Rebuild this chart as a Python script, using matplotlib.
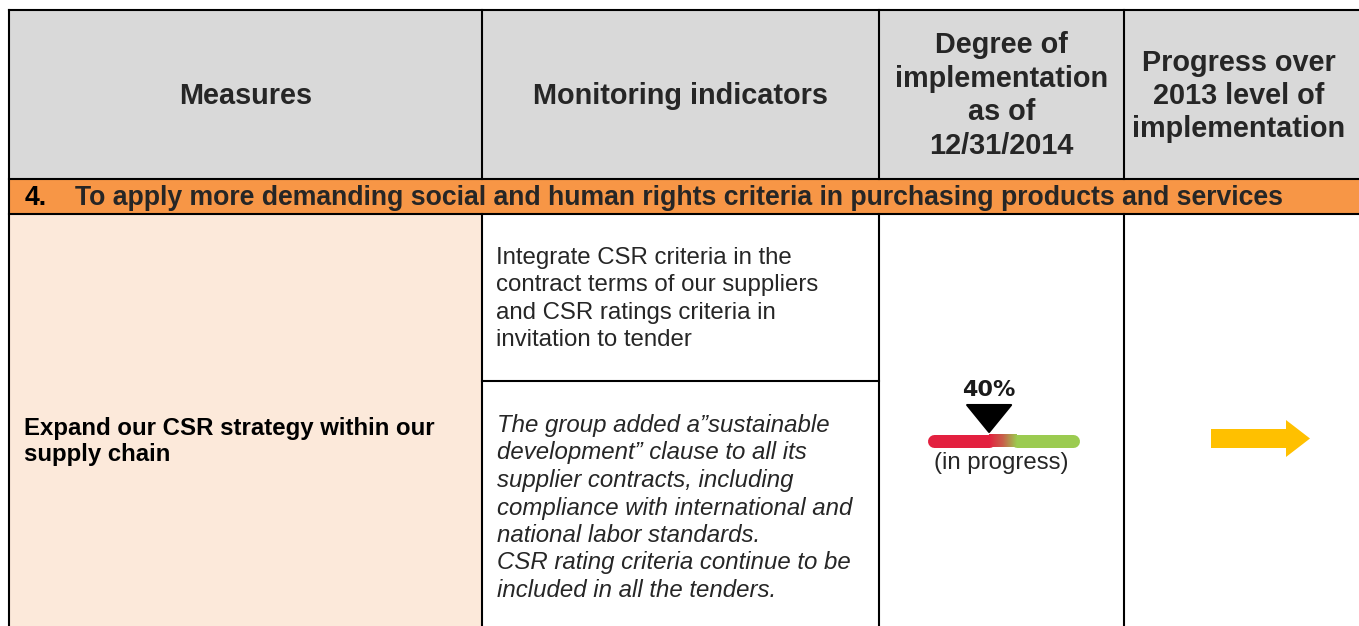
import numpy as np
import matplotlib
matplotlib.use("Agg")
import matplotlib.pyplot as plt
from matplotlib.patches import Rectangle, Polygon, FancyArrow
from matplotlib.colors import LinearSegmentedColormap

# ---------------- data ----------------
column_headers = ["Measures",
                  "Monitoring indicators",
                  "Degree of\nimplementation\nas of\n12/31/2014",
                  "Progress over\n2013 level of\nimplementation"]
section_number = "4."
section_title = ("To apply more demanding social and human rights criteria "
                 "in purchasing products and services")
measure_lines = ["Expand our CSR strategy within our", "supply chain"]
indicator_lines = ["Integrate CSR criteria in the",
                   "contract terms of our suppliers",
                   "and CSR ratings criteria in",
                   "invitation to tender"]
comment_lines = ["The group added a\u201dsustainable",
                 "development\u201d clause to all its",
                 "supplier contracts, including",
                 "compliance with international and",
                 "national labor standards.",
                 "CSR rating criteria continue to be",
                 "included in all the tenders."]
implementation_pct = 40
implementation_status = "(in progress)"
gauge_red_end = 40
gauge_green_start = 60
progress_direction = "stable"   # horizontal arrow

# ---------------- style ----------------
W, H = 1359, 626
FONT = ["Liberation Sans", "DejaVu Sans"]
GRAY = "#D9D9D9"
ORANGE = "#F79646"
PEACH = "#FCE9DA"
TXT = "#262626"
RED = "#E3203F"
GREEN = "#9BCB50"
YELLOW = "#FFC000"
LW = 1.5

fig = plt.figure(figsize=(W / 100, H / 100), dpi=100)
ax = fig.add_axes([0, 0, 1, 1])
ax.set_xlim(0, W)
ax.set_ylim(H, 0)
ax.axis("off")

# grid geometry (pixels)
xl, x1, x2, x3, xr = 9, 482, 879, 1124, W + 5
yt, yh, yb, ysplit, ybot = 10, 179, 214, 381, H + 5

# fills
ax.add_patch(Rectangle((xl, yt), xr - xl, yh - yt, fc=GRAY, ec="none"))
ax.add_patch(Rectangle((xl, yh), xr - xl, yb - yh, fc=ORANGE, ec="none"))
ax.add_patch(Rectangle((xl, yb), x1 - xl, ybot - yb, fc=PEACH, ec="none"))

# lines
for y, a, b in [(yt, xl, xr), (yh, xl, xr), (yb, xl, xr), (ysplit, x1, x2)]:
    ax.plot([a, b], [y, y], color="black", lw=LW, solid_capstyle="projecting")
ax.plot([xl, xl], [yt, ybot], color="black", lw=LW, solid_capstyle="projecting")
for x in (x1, x2, x3):
    ax.plot([x, x], [yt, yh], color="black", lw=LW)
    ax.plot([x, x], [yb, ybot], color="black", lw=LW)

# header text
hdr_kw = dict(family=FONT, fontsize=20.8, fontweight="bold", color=TXT,
              ha="center", va="baseline")
ax.text((xl + x1) / 2, 104, column_headers[0], **hdr_kw)
ax.text((x1 + x2) / 2, 104, column_headers[1], **hdr_kw)
for i, line in enumerate(column_headers[2].split("\n")):
    ax.text((x2 + x3) / 2, 53 + i * 33.7, line, **hdr_kw)
for i, line in enumerate(column_headers[3].split("\n")):
    ax.text(1239, 71 + i * 33.2, line, **hdr_kw)

# section band
ax.text(25, 205, section_number, family=FONT, fontsize=19.2,
        fontweight="bold", color="black", va="baseline")
ax.text(75, 205, section_title, family=FONT, fontsize=19.2,
        fontweight="bold", color=TXT, va="baseline")

# measure
for i, line in enumerate(measure_lines):
    ax.text(24, 435 + i * 26, line, family=FONT, fontsize=17.3,
            fontweight="bold", color="black", va="baseline")

# indicators
for i, line in enumerate(indicator_lines):
    ax.text(496, 264 + i * 27.5, line, family=FONT, fontsize=17.3,
            color=TXT, va="baseline")
for i, line in enumerate(comment_lines):
    ax.text(497, 432 + i * 27.5, line, family=FONT, fontsize=17.3,
            style="italic", color=TXT, va="baseline")

# status text
ax.text((x2 + x3) / 2, 469, implementation_status, family=FONT,
        fontsize=17.3, color=TXT, ha="center", va="baseline")

# ---------------- gauge (inset axes, 0-100 scale) ----------------
bar_l, bar_r = 933.5, 1072.5          # scale ends (caps extend beyond)
g_top, g_bot = 370, 450
gax = fig.add_axes([bar_l / W, 1 - g_bot / H, (bar_r - bar_l) / W,
                    (g_bot - g_top) / H])
gax.set_xlim(0, 100)
gax.set_ylim(g_bot, g_top)
gax.axis("off")
gax.patch.set_alpha(0)
bar_y, bar_h = 440.5, 13
bar_lw = bar_h * 72 / 100
gax.plot([0, gauge_red_end], [bar_y, bar_y], color=RED, lw=bar_lw,
         solid_capstyle="round", zorder=1, clip_on=False)
gax.plot([gauge_green_start, 100], [bar_y, bar_y], color=GREEN, lw=bar_lw,
         solid_capstyle="round", zorder=1, clip_on=False)
cmap = LinearSegmentedColormap.from_list("rg", [RED, "#C8604A", GREEN])
grad = np.linspace(0, 1, 256).reshape(1, -1)
gax.imshow(grad, cmap=cmap, aspect="auto", interpolation="bilinear",
           extent=[gauge_red_end, gauge_green_start,
                   bar_y + bar_h / 2, bar_y - bar_h / 2], zorder=2)
gax.set_xlim(0, 100)
gax.set_ylim(g_bot, g_top)
half_w = 22 / (bar_r - bar_l) * 100
tri = Polygon([(implementation_pct - half_w, 405),
               (implementation_pct + half_w, 405),
               (implementation_pct, 432)], closed=True,
              fc="black", ec="black", lw=1.5, joinstyle="round", zorder=3)
gax.add_patch(tri)
gax.text(implementation_pct, 396, f"{implementation_pct}%",
         family=["DejaVu Sans"], fontsize=16, fontweight="bold",
         color="#1a1a1a", ha="center", va="baseline", zorder=4)

# ---------------- progress arrow ----------------
if progress_direction == "stable":
    ax.add_patch(FancyArrow(1211, 438.5, 99, 0, width=19, head_width=37,
                            head_length=24, length_includes_head=True,
                            fc=YELLOW, ec="none"))

fig.savefig("out.png", dpi=100)
